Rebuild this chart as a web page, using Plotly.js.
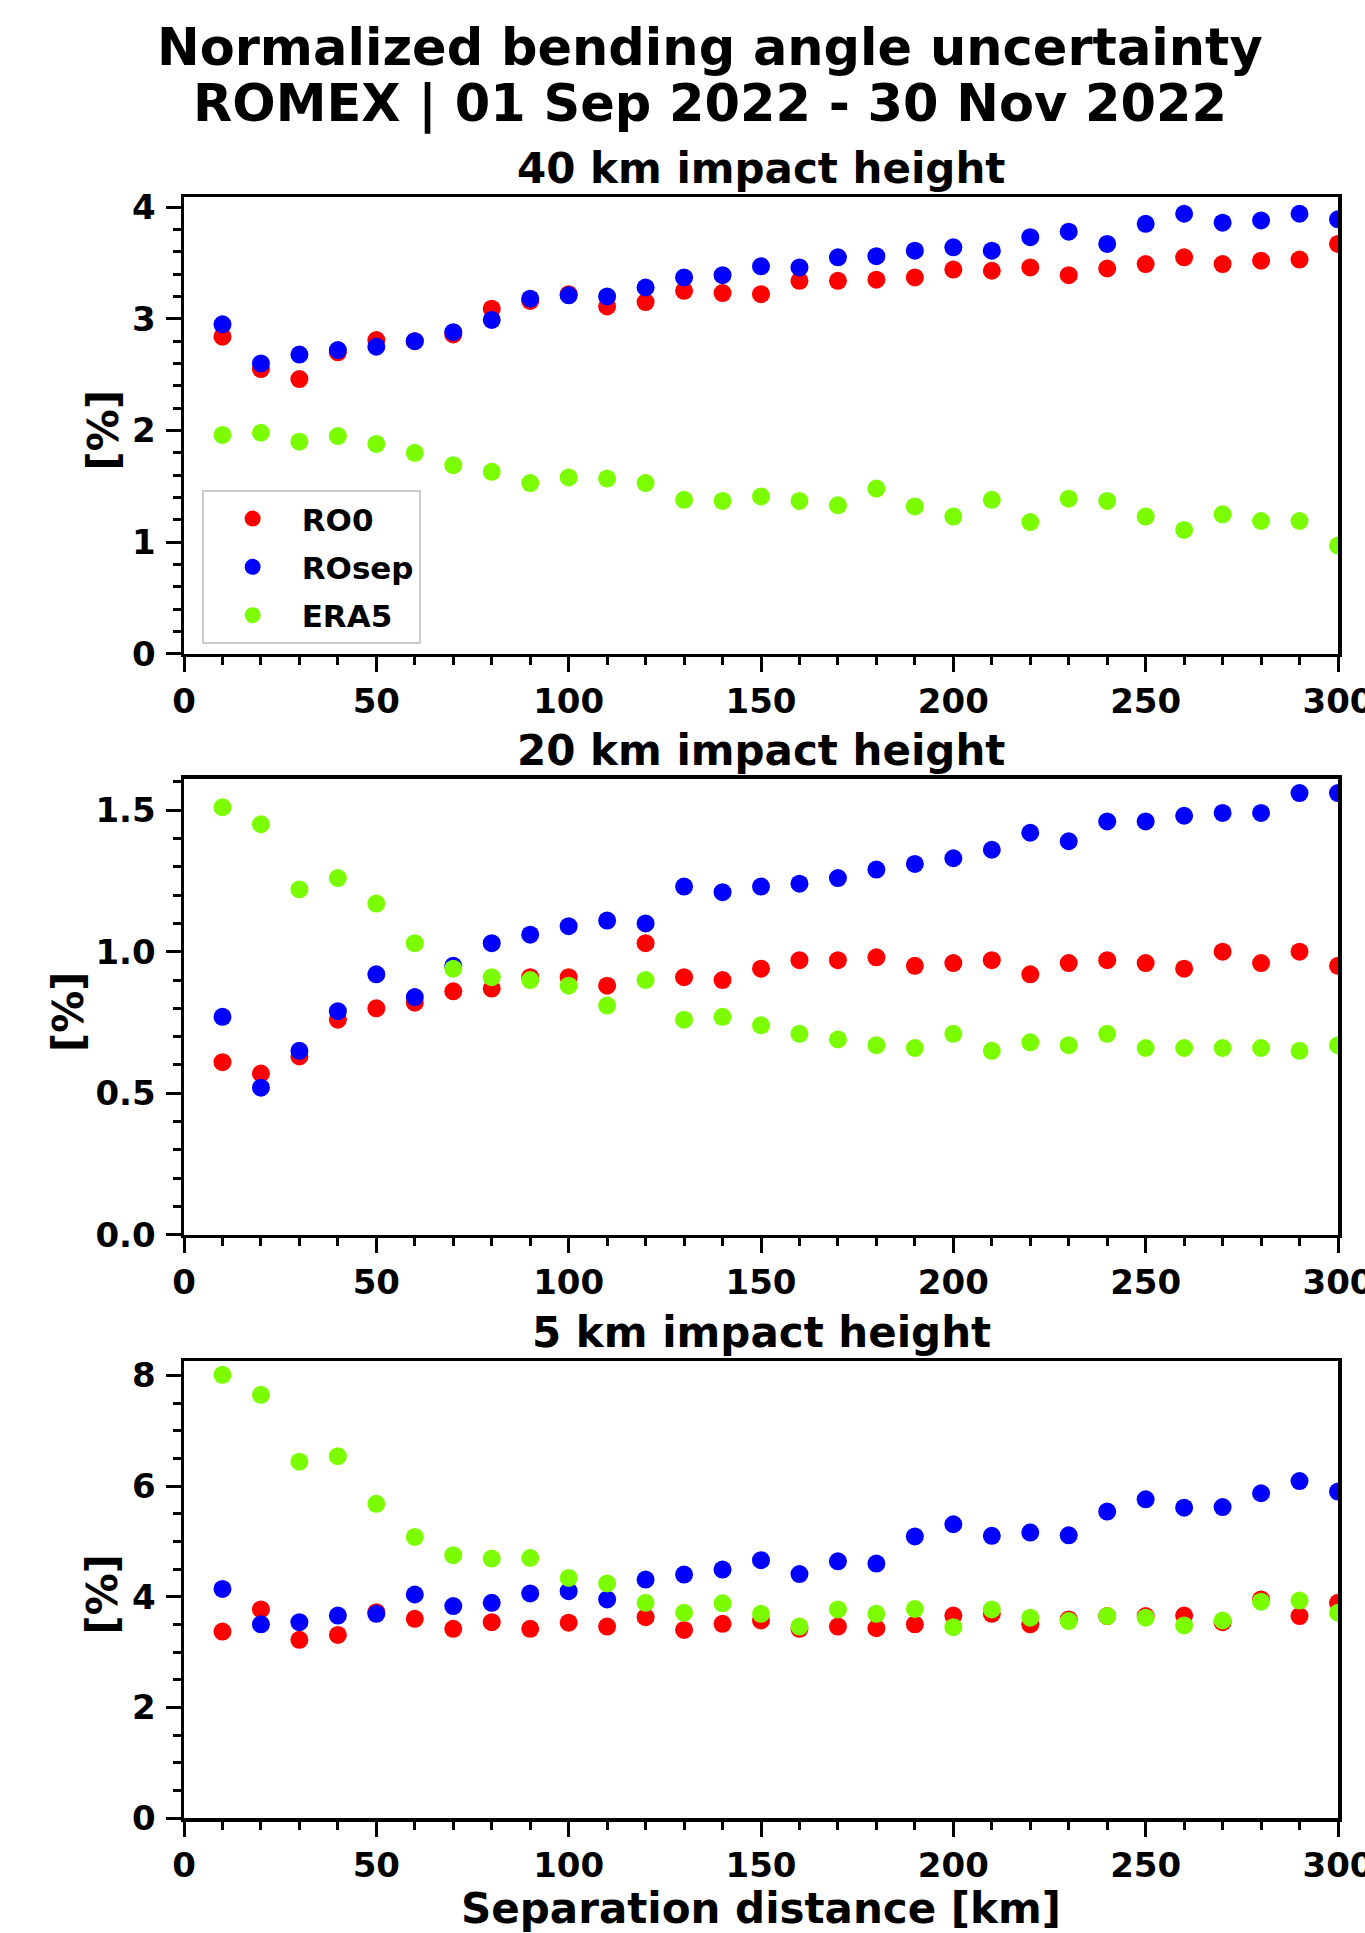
<!DOCTYPE html>
<html>
<head>
<meta charset="utf-8">
<script src="https://cdn.plot.ly/plotly-3.0.1.min.js"></script>
<style>html,body{margin:0;padding:0;background:#fff;}</style>
</head>
<body>
<div id="chart" style="width:1365px;height:1933px;"></div>
<script>
// ---- data ----
const distance = [10,20,30,40,50,60,70,80,90,100,110,120,130,140,150,160,170,180,190,200,210,220,230,240,250,260,270,280,290,300];
const seriesNames = ['RO0', 'ROsep', 'ERA5'];
const panelTitles = ['40 km impact height', '20 km impact height', '5 km impact height'];
const yTitle = '[%]';
const xTitle = 'Separation distance [km]';
const mainTitle = ['Normalized bending angle uncertainty', 'ROMEX | 01 Sep 2022 - 30 Nov 2022'];

const ro0_40   = [2.84,2.55,2.46,2.70,2.81,2.80,2.86,3.09,3.16,3.22,3.11,3.15,3.25,3.23,3.22,3.34,3.34,3.35,3.37,3.44,3.43,3.46,3.39,3.45,3.49,3.55,3.49,3.52,3.53,3.67];
const rosep_40 = [2.95,2.60,2.68,2.72,2.75,2.80,2.88,2.99,3.18,3.21,3.20,3.28,3.37,3.39,3.47,3.46,3.55,3.56,3.61,3.64,3.61,3.73,3.78,3.67,3.85,3.94,3.86,3.88,3.94,3.89];
const era5_40  = [1.96,1.98,1.90,1.95,1.88,1.80,1.69,1.63,1.53,1.58,1.57,1.53,1.38,1.37,1.41,1.37,1.33,1.48,1.32,1.23,1.38,1.18,1.39,1.37,1.23,1.11,1.25,1.19,1.19,0.97];

const ro0_20   = [0.61,0.57,0.63,0.76,0.80,0.82,0.86,0.87,0.91,0.91,0.88,1.03,0.91,0.90,0.94,0.97,0.97,0.98,0.95,0.96,0.97,0.92,0.96,0.97,0.96,0.94,1.00,0.96,1.00,0.95];
const rosep_20 = [0.77,0.52,0.65,0.79,0.92,0.84,0.95,1.03,1.06,1.09,1.11,1.10,1.23,1.21,1.23,1.24,1.26,1.29,1.31,1.33,1.36,1.42,1.39,1.46,1.46,1.48,1.49,1.49,1.56,1.56];
const era5_20  = [1.51,1.45,1.22,1.26,1.17,1.03,0.94,0.91,0.90,0.88,0.81,0.90,0.76,0.77,0.74,0.71,0.69,0.67,0.66,0.71,0.65,0.68,0.67,0.71,0.66,0.66,0.66,0.66,0.65,0.67];

const ro0_5    = [3.37,3.77,3.22,3.31,3.72,3.60,3.42,3.54,3.42,3.53,3.46,3.63,3.40,3.51,3.57,3.42,3.46,3.43,3.50,3.66,3.69,3.50,3.59,3.65,3.65,3.66,3.54,3.95,3.65,3.89];
const rosep_5  = [4.14,3.50,3.54,3.66,3.69,4.04,3.83,3.89,4.06,4.10,3.95,4.31,4.40,4.49,4.66,4.41,4.64,4.60,5.09,5.31,5.10,5.16,5.11,5.54,5.76,5.61,5.62,5.87,6.09,5.90];
const era5_5   = [8.01,7.65,6.44,6.54,5.68,5.08,4.75,4.69,4.70,4.34,4.24,3.89,3.71,3.88,3.69,3.46,3.77,3.69,3.78,3.45,3.77,3.62,3.56,3.65,3.62,3.48,3.57,3.91,3.93,3.71];

const panels = [
  [ro0_40, rosep_40, era5_40],
  [ro0_20, rosep_20, era5_20],
  [ro0_5,  rosep_5,  era5_5]
];

// ---- styling ----
const FONT = 'DejaVu Sans';
const colors = ['#ff0000', '#0000ff', '#7cfc00'];
const yRanges = [[0, 4.09], [0, 1.61], [0, 8.26]];
const yDticks = [1, 0.5, 2];
const yMinor = [0.2, 0.1, 0.5];
const yFormats = ['d', '.1f', 'd'];
const yDomains = [[0.7181, 1.0], [0.3597, 0.6410], [0.0, 0.2819]];

const traces = [];
panels.forEach((vals, p) => {
  vals.forEach((v, s) => {
    traces.push({
      type: 'scatter', mode: 'markers',
      x: distance, y: v,
      name: seriesNames[s],
      legendgroup: seriesNames[s],
      showlegend: p === 0,
      xaxis: p === 0 ? 'x' : 'x' + (p + 1),
      yaxis: p === 0 ? 'y' : 'y' + (p + 1),
      marker: { color: colors[s], size: 18, line: { width: 0 } },
      cliponaxis: true,
      hoverinfo: 'skip'
    });
  });
});

const tickFont = { family: FONT, size: 34, weight: 'bold', color: 'black' };
const labelFont = { family: FONT, size: 42, weight: 'bold', color: 'black' };

function xAxis(p) {
  return {
    domain: [0, 1], anchor: p === 0 ? 'y' : 'y' + (p + 1),
    range: [0, 300], dtick: 50, tick0: 0,
    ticks: 'outside', ticklen: 15, tickwidth: 3, tickcolor: 'black',
    minor: { ticks: 'outside', ticklen: 8, tickwidth: 3, tickcolor: 'black', dtick: 10, tick0: 0 },
    showline: true, linewidth: 3.5, linecolor: 'black', mirror: true,
    showgrid: false, zeroline: false,
    tickfont: tickFont,
    ticklabeloverflow: 'allow',
    ticklabelstandoff: 0,
    title: p === 2 ? { text: xTitle, font: labelFont, standoff: 4 } : { text: '' },
    automargin: false
  };
}
function yAxis(p) {
  return {
    domain: yDomains[p], anchor: p === 0 ? 'x' : 'x' + (p + 1),
    range: yRanges[p], dtick: yDticks[p], tick0: 0, tickformat: yFormats[p],
    ticks: 'outside', ticklen: 15, tickwidth: 3, tickcolor: 'black',
    minor: { ticks: 'outside', ticklen: 8, tickwidth: 3, tickcolor: 'black', dtick: yMinor[p], tick0: 0 },
    showline: true, linewidth: 3.5, linecolor: 'black', mirror: true,
    showgrid: false, zeroline: false,
    tickfont: tickFont,
    ticklabeloverflow: 'allow',
    ticklabelstandoff: 3,
    title: { text: '' },
    automargin: false
  };
}

const titleFont = { family: FONT, size: 51, weight: 'bold', color: 'black' };
const subY = [1.0176, 0.6585, 0.2995];
const yTitleX = [-0.0698, -0.1005, -0.0698];
const yTitleY = [0.8563, 0.4972, 0.1382];

const annotations = [
  { text: mainTitle[0], xref: 'paper', yref: 'paper', x: 0.4558, y: 1.0923, xanchor: 'center', yanchor: 'middle', showarrow: false, font: titleFont },
  { text: mainTitle[1], xref: 'paper', yref: 'paper', x: 0.4558, y: 1.0573, xanchor: 'center', yanchor: 'middle', showarrow: false, font: titleFont }
];
panelTitles.forEach((t, p) => {
  annotations.push({ text: t, xref: 'paper', yref: 'paper', x: 0.5, y: subY[p], xanchor: 'center', yanchor: 'middle', showarrow: false, font: labelFont });
  annotations.push({ text: yTitle, xref: 'paper', yref: 'paper', x: yTitleX[p], y: yTitleY[p], xanchor: 'center', yanchor: 'middle', textangle: -90, showarrow: false, font: labelFont });
});

const layout = {
  width: 1365, height: 1933,
  margin: { l: 184, r: 27, t: 197, b: 115, pad: 0 },
  paper_bgcolor: 'white', plot_bgcolor: 'white',
  font: { family: FONT, size: 31, weight: 'bold', color: 'black' },
  showlegend: true,
  legend: {
    x: 0.0153, y: 0.8193, xanchor: 'left', yanchor: 'top',
    bgcolor: 'white', bordercolor: '#cccccc', borderwidth: 2,
    font: { family: FONT, size: 31, weight: 'bold', color: 'black' },
    itemwidth: 88, tracegroupgap: 5, traceorder: 'grouped'
  },
  xaxis: xAxis(0), xaxis2: xAxis(1), xaxis3: xAxis(2),
  yaxis: yAxis(0), yaxis2: yAxis(1), yaxis3: yAxis(2),
  annotations: annotations,
  hovermode: false
};

Plotly.newPlot('chart', traces, layout, { staticPlot: true, displayModeBar: false });
</script>
</body>
</html>
